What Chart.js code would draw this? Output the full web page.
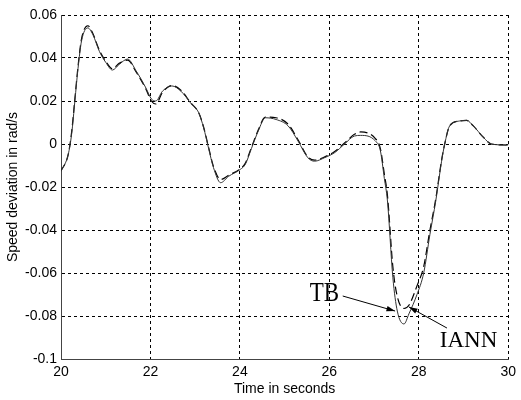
<!DOCTYPE html>
<html>
<head>
<meta charset="utf-8">
<script src="https://cdn.jsdelivr.net/npm/chart.js@4.4.1/dist/chart.umd.min.js"></script>
<style>
  body { margin: 0; background: #fff; }
  canvas { display: block; }
</style>
</head>
<body>
<canvas id="speed-chart" width="521" height="400"></canvas>
<script>
'use strict';

// time axis samples (seconds)
const timeSec = [
  20, 20.16, 20.24, 20.31, 20.38, 20.46, 20.6, 20.71, 20.86, 21.0,
  21.15, 21.3, 21.49, 21.68, 21.9, 22.02, 22.12, 22.27, 22.48, 22.68,
  22.9, 23.08, 23.19, 23.3, 23.41, 23.57, 23.75, 24.01, 24.12, 24.26,
  24.41, 24.57, 24.81, 25.08, 25.3, 25.52, 25.67, 25.9, 26.12, 26.34,
  26.56, 26.7, 27.03, 27.14, 27.23, 27.3, 27.42, 27.52, 27.67, 27.78,
  27.96, 28.11, 28.25, 28.38, 28.51, 28.58, 28.69, 28.91, 29.07, 29.22,
  29.45, 29.62, 30,
];

// speed deviation with the TB controller (rad/s)
const tbSpeed = [
  -0.0126, -0.005, 0.005, 0.02, 0.035, 0.048, 0.054, 0.051, 0.043, 0.038,
  0.0344, 0.037, 0.0395, 0.034, 0.026, 0.021, 0.02, 0.0246, 0.027, 0.0246,
  0.019, 0.0145, 0.0075, -0.002, -0.011, -0.018, -0.015, -0.0118, -0.0095, -0.002,
  0.006, 0.0122, 0.0114, 0.0084, 0.0014, -0.0064, -0.008, -0.0063, -0.004, 0,
  0.0037, 0.004, 0.0014, -0.003, -0.016, -0.0265, -0.062, -0.0777, -0.0837, -0.079,
  -0.07, -0.06, -0.042, -0.0265, -0.008, 0, 0.0084, 0.0107, 0.011, 0.0084,
  0.003, 0, -0.0005,
];

// speed deviation with the IANN controller (rad/s)
const iannSpeed = [
  -0.0126, -0.005, 0.006, 0.021, 0.036, 0.049, 0.055, 0.0515, 0.0435, 0.0385,
  0.035, 0.0375, 0.039, 0.0335, 0.0255, 0.02, 0.0186, 0.024, 0.0272, 0.025,
  0.0192, 0.0145, 0.0078, -0.0015, -0.0105, -0.0165, -0.0145, -0.0115, -0.009, -0.0015,
  0.0065, 0.0125, 0.0122, 0.0092, 0.002, -0.006, -0.0075, -0.006, -0.0035, 0.0005,
  0.0045, 0.0056, 0.0025, -0.002, -0.014, -0.024, -0.057, -0.071, -0.0765, -0.075,
  -0.066, -0.057, -0.04, -0.0255, -0.0075, 0, 0.0084, 0.0107, 0.011, 0.0084,
  0.003, 0, -0.0005,
];

const xTicks = [20, 22, 24, 26, 28, 30];
const yTicks = [0.06, 0.04, 0.02, 0, -0.02, -0.04, -0.06, -0.08, -0.1];

// labels with arrows: text anchor, arrow tail and arrow head, all in data units
const arrowNotes = [
  { text: 'TB', align: 'right', stretch: 1.2, at: [26.22, -0.0695], from: [26.3, -0.0707], to: [27.47, -0.0777] },
  { text: 'IANN', align: 'left', stretch: 1.0, at: [28.47, -0.0917], from: [28.63, -0.0856], to: [27.78, -0.0758] },
];

const tbPoints = timeSec.map((t, i) => ({ x: t, y: tbSpeed[i] }));
const iannPoints = timeSec.map((t, i) => ({ x: t, y: iannSpeed[i] }));

const axisFont = { family: '"Liberation Sans", Arial, sans-serif', size: 14 };

const arrowPlugin = {
  id: 'arrowNotes',
  afterDatasetsDraw(chart) {
    const { ctx, scales } = chart;
    const px = (p) => [scales.x.getPixelForValue(p[0]), scales.y.getPixelForValue(p[1])];
    ctx.save();
    ctx.fillStyle = '#000';
    ctx.strokeStyle = '#000';
    ctx.lineWidth = 1;
    ctx.font = '23px "Liberation Serif", "Times New Roman", serif';
    ctx.textBaseline = 'middle';
    arrowNotes.forEach((note) => {
      const [tx, ty] = px(note.at);
      ctx.save();
      ctx.translate(tx, ty);
      ctx.scale(1, note.stretch);
      ctx.textAlign = note.align;
      ctx.fillText(note.text, 0, 0);
      ctx.restore();

      const [x0, y0] = px(note.from);
      const [x1, y1] = px(note.to);
      ctx.beginPath();
      ctx.moveTo(x0, y0);
      ctx.lineTo(x1, y1);
      ctx.stroke();

      // filled arrow head
      const ang = Math.atan2(y1 - y0, x1 - x0);
      const len = 9;
      const spread = 0.3;
      ctx.beginPath();
      ctx.moveTo(x1, y1);
      ctx.lineTo(x1 - len * Math.cos(ang - spread), y1 - len * Math.sin(ang - spread));
      ctx.lineTo(x1 - len * Math.cos(ang + spread), y1 - len * Math.sin(ang + spread));
      ctx.closePath();
      ctx.fill();
    });
    ctx.restore();
  },
};

new Chart(document.getElementById('speed-chart'), {
  type: 'line',
  data: {
    datasets: [
      {
        label: 'TB',
        data: tbPoints,
        borderColor: '#333',
        borderWidth: 1,
        pointRadius: 0,
        cubicInterpolationMode: 'monotone',
      },
      {
        label: 'IANN',
        data: iannPoints,
        borderColor: '#000',
        borderWidth: 1.2,
        borderDash: [8, 4],
        pointRadius: 0,
        cubicInterpolationMode: 'monotone',
      },
    ],
  },
  options: {
    responsive: false,
    animation: false,
    layout: { padding: { top: 15, right: 9, left: 0, bottom: 0 } },
    plugins: {
      legend: { display: false },
      tooltip: { enabled: false },
    },
    scales: {
      x: {
        type: 'linear',
        min: 20,
        max: 30,
        afterFit: (scale) => { scale.height = 41; },
        afterBuildTicks: (scale) => { scale.ticks = xTicks.map((v) => ({ value: v })); },
        ticks: { color: '#000', font: axisFont, padding: 5, maxRotation: 0 },
        grid: { color: '#000', lineWidth: 1, drawTicks: false },
        border: { display: true, color: '#444', width: 1, dash: [3, 3] },
        title: {
          display: true,
          text: 'Time in seconds',
          color: '#000',
          font: axisFont,
          padding: { top: 0, bottom: 2 },
        },
      },
      y: {
        min: -0.1,
        max: 0.06,
        afterFit: (scale) => { scale.width = 61; },
        afterBuildTicks: (scale) => { scale.ticks = yTicks.map((v) => ({ value: v })); },
        ticks: {
          color: '#000',
          font: axisFont,
          padding: 4,
          callback: (v) => String(Number(v.toFixed(2))),
        },
        grid: { color: '#000', lineWidth: 1, drawTicks: false },
        border: { display: true, color: '#444', width: 1, dash: [3, 3] },
        title: {
          display: true,
          text: 'Speed deviation in rad/s',
          color: '#000',
          font: axisFont,
          padding: { top: 5, bottom: 0 },
        },
      },
    },
  },
  plugins: [arrowPlugin],
});
</script>
</body>
</html>
